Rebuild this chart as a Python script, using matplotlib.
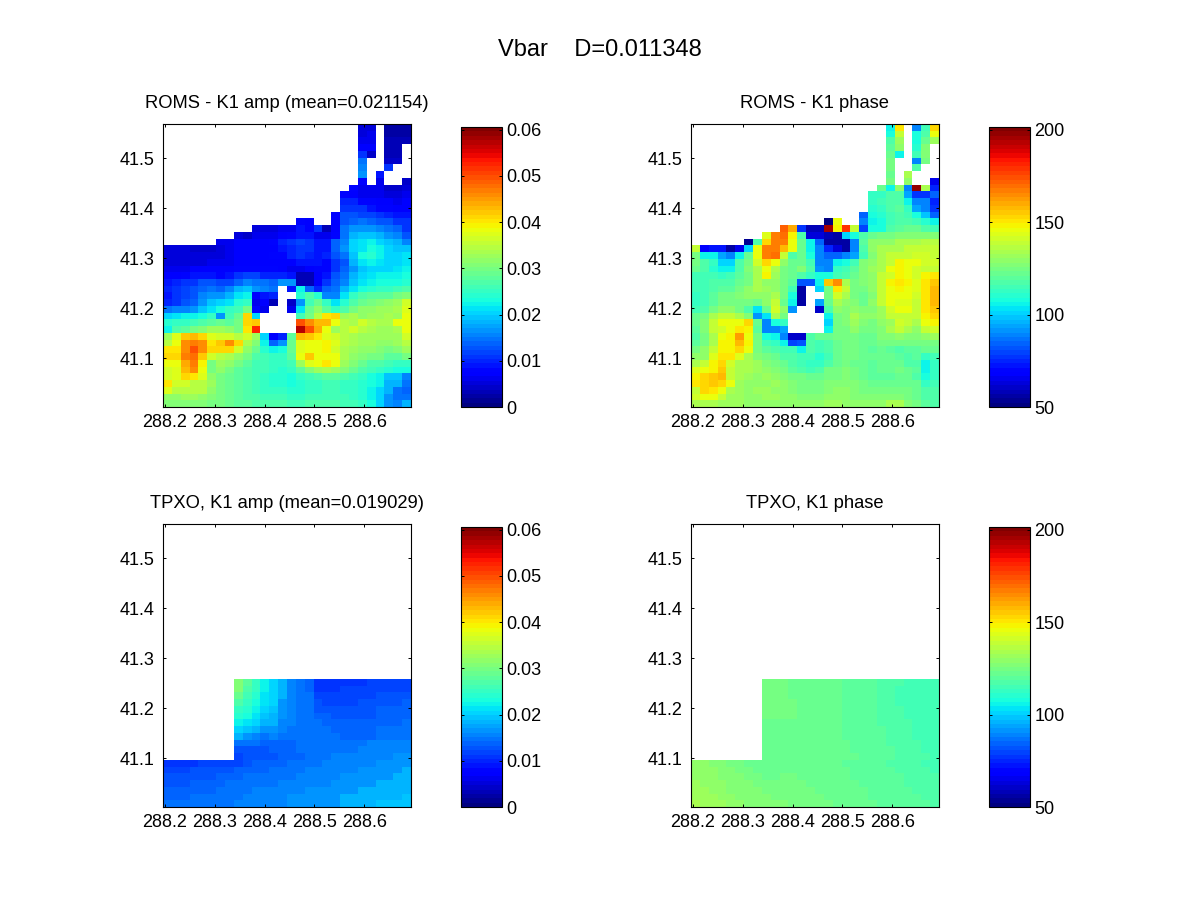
#!/usr/bin/env python
import numpy as np
import matplotlib
matplotlib.use('Agg')
import matplotlib.pyplot as plt

plt.rcParams['font.family'] = ['Liberation Sans', 'DejaVu Sans']

n = float('nan')

# grid is 28 x 42 cells, rows are listed north to south
LON_LIM = (288.196, 288.694)
LAT_LIM = (41.002, 41.569)
LON_TICKS = [288.2, 288.3, 288.4, 288.5, 288.6]
LAT_TICKS = [41.1, 41.2, 41.3, 41.4, 41.5]

AMP_LIM = (0, 0.0606)
AMP_TICKS = [0, 0.01, 0.02, 0.03, 0.04, 0.05, 0.06]
AMP_LABELS = ['0', '0.01', '0.02', '0.03', '0.04', '0.05', '0.06']
PHASE_LIM = (50, 201.6)
PHASE_TICKS = [50, 100, 150, 200]
PHASE_LABELS = ['50', '100', '150', '200']

# amplitudes, in 1e-3
ROMS_AMP = [
    [n]*22 + [5, 5, n, 2, 2, 2],
    [n]*22 + [5, 6, n, 2, 2, 2],
    [n]*22 + [6, 6, n, 3, 3, 3],
    [n]*22 + [7, 7, n, 3, 3, n],
    [n]*22 + [11, 4, n, 3, 3, n],
    [n]*22 + [15, n, n, 4, 4, n],
    [n]*22 + [16, n, n, 11, n, n],
    [n]*22 + [17, n, 9, n, n, n],
    [n]*22 + [7, n, 6, n, n, 4],
    [n]*21 + [8, 6, 6, 6, 4, 4, 5],
    [n]*20 + [8, 7, 6, 6, 6, 5, 5, 6],
    [n]*20 + [10, 10, 8, 8, 7, 7, 6, 7],
    [n]*20 + [11, 11, 11, 9, 8, 8, 7, 7],
    [n]*19 + [7, 13, 13, 12, 12, 11, 10, 9, 9],
    [n]*15 + [8, 7, n, n, 7, 13, 14, 15, 14, 13, 13, 11, 11],
    [n]*10 + [5, 5, 5, 6, 6, 9, 7, 11, 3, 7, 15, 17, 17, 17, 16, 15, 14, 11],
    [n]*8 + [5, 4, 6, 6, 6, 7, 8, 9, 9, 6, 6, 8, 15, 18, 19, 19, 18, 17, 16, 13],
    [n]*6 + [6, 6, 7, 7, 7, 7, 8, 10, 11, 12, 11, 9, 9, 14, 16, 20, 21, 22, 20, 19, 18, 16],
    [5, 5, 5, 4, 4, 4, 5, 6, 7, 7, 7, 7, 7, 9, 10, 11, 11, 9, 9, 14, 17, 20, 21, 23, 22, 20, 19, 19],
    [5, 5, 5, 5, 5, 5, 5, 6, 7, 7, 7, 7, 8, 8, 10, 11, 10, 9, 10, 13, 15, 19, 23, 24, 22, 20, 20, 21],
    [5, 5, 5, 5, 5, 6, 6, 6, 7, 7, 7, 7, 7, 7, 7, 9, 9, 9, 8, 11, 13, 18, 21, 22, 21, 20, 20, 21],
    [6, 6, 6, 7, 7, 7, 7, 7, 8, 8, 8, 8, 8, 7, 6, 6, 7, 8, 8, 11, 14, 17, 19, 20, 20, 20, 21, 22],
    [7, 7, 8, 9, 9, 9, 8, 9, 11, 12, 12, 10, 10, 10, 9, 3, 3, 7, 9, 13, 15, 18, 20, 21, 22, 22, 22, 23],
    [9, 10, 11, 11, 13, 13, 12, 12, 14, 16, 15, 15, 14, 17, 17, 3, 3, 7, 11, 14, 16, 19, 21, 22, 23, 23, 23, 24],
    [10, 11, 12, 13, 14, 15, 14, 16, 18, 19, 17, 16, 15, n, 9, 22, 14, 10, 14, 15, 18, 21, 23, 24, 25, 25, 26, 27],
    [9, 11, 12, 13, 16, 17, 17, 18, 21, 22, 7, 9, 10, n, n, 24, 27, 24, 16, 16, 21, 25, 27, 28, 28, 28, 30, 31],
    [10, 11, 13, 14, 17, 19, 20, 21, 24, 25, 6, 7, 3, n, 4, 17, 26, 29, 25, 21, 24, 27, 29, 30, 31, 32, 33, 36],
    [15, 16, 16, 17, 19, 21, 23, 25, 26, 30, 8, 6, n, n, 6, 21, 29, 32, 28, 25, 27, 30, 32, 32, 33, 33, 34, 37],
    [20, 21, 22, 22, 23, 25, 17, 26, 29, 41, 20, n, n, n, n, 26, 30, 35, 40, 41, 33, 34, 32, 33, 33, 34, 33, 38],
    [24, 25, 25, 26, 27, 28, 29, 28, 30, 41, 42, n, n, n, n, 50, 46, 43, 43, 38, 35, 34, 36, 35, 34, 34, 38, 38],
    [22, 27, 28, 30, 31, 33, 33, 32, 30, 40, 53, n, n, n, n, 57, 50, 44, 38, 33, 35, 36, 35, 34, 33, 33, 34, 38],
    [33, 37, 42, 43, 41, 37, 36, 36, 35, 36, 33, 20, 7, 10, 28, 43, 42, 40, 37, 36, 35, 34, 33, 33, 33, 33, 33, 36],
    [35, 38, 46, 47, 46, 40, 42, 46, 41, 34, 31, 22, 14, 17, 29, 37, 38, 38, 39, 37, 35, 34, 33, 33, 32, 32, 33, 35],
    [40, 40, 46, 50, 46, 41, 41, 41, 36, 32, 29, 24, 22, 23, 29, 37, 38, 38, 39, 36, 34, 33, 32, 32, 31, 30, 31, 33],
    [41, 41, 47, 48, 42, 36, 35, 34, 32, 30, 27, 26, 25, 25, 28, 38, 42, 38, 38, 38, 34, 32, 31, 30, 30, 28, 28, 30],
    [38, 38, 44, 47, 39, 30, 33, 32, 30, 28, 26, 26, 25, 25, 26, 33, 37, 38, 40, 38, 33, 31, 29, 27, 27, 26, 25, 25],
    [36, 37, 43, 46, 38, 30, 32, 30, 28, 27, 26, 26, 25, 24, 25, 28, 31, 33, 34, 33, 31, 29, 27, 26, 25, 24, 23, 23],
    [36, 37, 41, 40, 37, 32, 30, 29, 28, 27, 26, 25, 24, 24, 23, 25, 26, 27, 28, 28, 27, 26, 25, 23, 22, 19, 19, 16],
    [40, 36, 36, 35, 35, 33, 30, 29, 28, 27, 26, 25, 24, 24, 23, 24, 25, 25, 26, 26, 25, 25, 24, 23, 22, 18, 18, 15],
    [37, 35, 35, 35, 35, 32, 30, 29, 28, 27, 26, 25, 25, 25, 24, 24, 25, 25, 26, 26, 25, 25, 24, 22, 20, 18, 15, 14],
    [32, 32, 33, 33, 32, 31, 30, 29, 28, 27, 27, 26, 26, 26, 25, 25, 26, 26, 26, 26, 26, 25, 24, 22, 20, 17, 15, 15],
    [31, 31, 31, 31, 31, 30, 30, 29, 28, 28, 27, 27, 27, 27, 26, 26, 27, 27, 27, 27, 26, 26, 25, 23, 20, 17, 16, 18],
]

# phases, in degrees
ROMS_PHASE = [
    [n]*22 + [105, 150, n, 88, 115, 152],
    [n]*22 + [107, 138, n, 107, 118, 145],
    [n]*22 + [118, 132, n, 107, 122, 132],
    [n]*22 + [120, 130, n, 110, 128, n],
    [n]*22 + [122, 105, n, 115, 128, n],
    [n]*22 + [125, n, n, 90, 125, n],
    [n]*22 + [125, n, n, 118, n, n],
    [n]*22 + [122, n, 135, n, n, n],
    [n]*22 + [125, n, 130, n, n, 65],
    [n]*21 + [122, 105, 130, 88, 197, 135, 75],
    [n]*20 + [112, 113, 118, 118, 95, 78, 78, 85],
    [n]*20 + [112, 115, 118, 118, 105, 88, 90, 75],
    [n]*20 + [110, 112, 118, 120, 112, 95, 90, 78],
    [n]*19 + [85, 108, 110, 115, 118, 116, 108, 98, 85],
    [n]*15 + [52, 145, n, n, 90, 105, 108, 115, 118, 118, 115, 110, 105],
    [n]*10 + [172, 160, 78, 58, 58, 195, 148, 180, 138, 80, 107, 108, 118, 120, 122, 122, 118, 116],
    [n]*8 + [143, 168, 170, 148, 118, 62, 62, 58, 56, 100, 108, 118, 122, 125, 125, 127, 128, 128, 128, 128],
    [n]*6 + [54, 118, 152, 168, 168, 145, 122, 105, 85, 55, 55, 55, 90, 120, 130, 130, 130, 133, 133, 135, 137, 137],
    [138, 68, 72, 72, 55, 66, 100, 145, 168, 168, 158, 145, 122, 105, 88, 75, 62, 55, 88, 118, 130, 133, 135, 135, 138, 140, 140, 140],
    [125, 105, 105, 95, 88, 105, 122, 146, 168, 170, 140, 118, 122, 107, 88, 85, 85, 88, 95, 115, 128, 133, 138, 140, 140, 142, 142, 140],
    [125, 118, 112, 100, 100, 118, 125, 142, 152, 145, 130, 122, 122, 115, 90, 90, 105, 108, 115, 128, 130, 135, 140, 148, 145, 145, 142, 142],
    [122, 118, 110, 105, 105, 118, 128, 135, 145, 135, 125, 122, 128, 118, 92, 90, 112, 115, 120, 128, 132, 135, 145, 148, 145, 142, 140, 140],
    [115, 115, 115, 113, 115, 120, 125, 133, 148, 132, 125, 122, 118, 112, 108, 108, 115, 118, 122, 128, 130, 138, 142, 148, 145, 142, 148, 150],
    [115, 115, 118, 118, 118, 122, 125, 135, 130, 130, 125, 120, 82, 82, 105, 155, 165, 135, 125, 128, 130, 140, 148, 150, 148, 143, 150, 155],
    [115, 115, 118, 120, 120, 125, 130, 135, 132, 130, 125, 115, 55, n, 100, 125, 150, 138, 125, 125, 130, 140, 145, 148, 145, 143, 150, 158],
    [112, 115, 120, 125, 125, 128, 130, 130, 130, 135, 125, 108, 55, n, n, 125, 142, 135, 125, 122, 128, 140, 145, 145, 145, 142, 150, 158],
    [112, 115, 120, 125, 125, 125, 125, 122, 130, 140, 122, 105, 55, n, 95, 122, 135, 130, 128, 122, 130, 140, 145, 143, 143, 140, 150, 158],
    [115, 118, 125, 130, 130, 125, 118, 103, 122, 142, 130, 92, n, n, 60, 118, 130, 128, 130, 128, 128, 132, 142, 145, 145, 140, 150, 155],
    [122, 125, 135, 140, 140, 135, 128, 92, 103, 135, 125, n, n, n, n, 105, 125, 128, 135, 130, 130, 132, 140, 140, 140, 138, 148, 152],
    [122, 128, 140, 145, 145, 145, 152, 122, 90, 107, 112, n, n, n, n, 100, 125, 128, 132, 128, 125, 130, 132, 142, 138, 135, 145, 148],
    [120, 128, 138, 142, 145, 150, 148, 120, 88, 88, 95, n, n, n, n, 105, 125, 125, 130, 125, 125, 128, 135, 138, 135, 130, 140, 142],
    [118, 125, 135, 145, 148, 162, 145, 125, 107, 106, 88, 60, 60, 118, 122, 122, 125, 125, 125, 122, 122, 128, 128, 130, 128, 128, 130, 132],
    [120, 125, 135, 148, 148, 158, 148, 125, 115, 112, 105, 80, 82, 118, 115, 118, 122, 125, 125, 122, 122, 125, 125, 125, 125, 125, 125, 125],
    [125, 130, 138, 148, 148, 152, 145, 125, 120, 118, 115, 115, 105, 118, 115, 118, 122, 125, 125, 122, 120, 122, 120, 118, 120, 120, 122, 122],
    [130, 130, 143, 150, 150, 143, 135, 128, 125, 122, 118, 118, 115, 115, 110, 115, 122, 125, 125, 122, 122, 122, 122, 120, 118, 120, 112, 115],
    [135, 138, 148, 152, 142, 135, 135, 132, 128, 125, 122, 118, 115, 112, 112, 118, 122, 125, 122, 122, 120, 122, 122, 122, 118, 118, 105, 112],
    [143, 145, 148, 155, 140, 135, 133, 132, 130, 128, 125, 120, 118, 116, 118, 125, 125, 128, 125, 122, 120, 122, 122, 125, 122, 120, 105, 112],
    [148, 152, 155, 158, 140, 135, 132, 130, 132, 130, 128, 125, 125, 122, 122, 125, 125, 128, 125, 122, 120, 120, 120, 122, 122, 118, 108, 113],
    [150, 152, 155, 152, 145, 132, 130, 130, 130, 132, 130, 128, 125, 125, 125, 128, 128, 128, 128, 125, 122, 122, 122, 122, 122, 122, 112, 115],
    [140, 152, 150, 145, 135, 132, 130, 132, 132, 130, 130, 128, 125, 125, 125, 128, 130, 130, 128, 125, 125, 125, 125, 125, 125, 122, 118, 118],
    [142, 146, 146, 140, 132, 132, 130, 130, 132, 132, 130, 130, 128, 128, 128, 130, 130, 130, 128, 128, 128, 128, 128, 128, 125, 122, 118, 118],
    [135, 135, 135, 132, 132, 132, 130, 130, 130, 130, 130, 130, 130, 130, 130, 132, 132, 130, 130, 130, 130, 130, 135, 135, 128, 125, 120, 118],
]

TPXO_AMP = [[n]*28]*23 + [
    [n]*8 + [31, 28, 25, 22, 20, 18, 16, 15, 14, 11, 11, 11, 11, 11, 11, 12, 12, 12, 12, 12],
    [n]*8 + [31, 27, 25, 22, 20, 18, 16, 15, 14, 11, 11, 11, 12, 12, 12, 12, 12, 12, 12, 12],
    [n]*8 + [29, 26, 24, 21, 20, 18, 16, 15, 15, 12, 12, 12, 12, 12, 12, 12, 13, 13, 13, 13],
    [n]*8 + [27, 25, 23, 21, 20, 17, 16, 15, 15, 13, 12, 12, 12, 12, 13, 13, 13, 13, 13, 14],
    [n]*8 + [25, 24, 22, 20, 19, 17, 16, 15, 15, 13, 13, 13, 13, 13, 13, 13, 14, 14, 14, 14],
    [n]*8 + [24, 23, 21, 19, 18, 17, 16, 15, 15, 14, 14, 13, 13, 13, 13, 13, 14, 14, 14, 14],
    [n]*8 + [22, 21, 20, 18, 18, 16, 16, 15, 15, 15, 14, 14, 14, 14, 14, 14, 14, 14, 14, 15],
    [n]*8 + [20, 19, 18, 17, 17, 16, 15, 15, 15, 15, 15, 14, 14, 14, 14, 14, 15, 15, 15, 15],
    [n]*8 + [18, 17, 16, 15, 16, 15, 15, 15, 15, 15, 15, 15, 14, 14, 14, 14, 15, 15, 15, 15],
    [n]*8 + [15, 15, 15, 14, 14, 14, 14, 15, 15, 15, 15, 15, 15, 15, 15, 16, 16, 16, 16, 16],
    [n]*8 + [13, 13, 13, 13, 14, 14, 14, 15, 15, 15, 15, 15, 15, 15, 16, 16, 16, 16, 16, 16],
    [n]*8 + [12, 13, 13, 13, 13, 14, 14, 14, 15, 15, 15, 16, 16, 16, 16, 16, 16, 16, 17, 17],
    [11, 11, 11, 11, 12, 12, 12, 12, 12, 13, 14, 14, 14, 14, 15, 15, 15, 15, 16, 16, 16, 16, 16, 16, 17, 17, 17, 17],
    [12, 12, 12, 13, 13, 13, 13, 13, 14, 14, 14, 14, 15, 15, 15, 15, 16, 16, 16, 16, 16, 16, 17, 17, 17, 17, 17, 18],
    [13, 13, 13, 13, 13, 13, 14, 14, 14, 15, 15, 15, 15, 15, 15, 16, 16, 16, 16, 16, 17, 17, 17, 17, 17, 17, 18, 18],
    [13, 13, 13, 14, 14, 14, 14, 15, 15, 15, 15, 15, 15, 16, 16, 16, 16, 16, 16, 17, 17, 17, 17, 17, 18, 18, 18, 18],
    [14, 14, 14, 14, 14, 14, 15, 15, 15, 15, 16, 16, 16, 16, 16, 16, 17, 17, 17, 17, 17, 17, 18, 18, 18, 18, 18, 18],
    [14, 14, 14, 15, 15, 15, 15, 15, 15, 16, 16, 16, 16, 16, 17, 17, 17, 17, 17, 17, 18, 18, 18, 18, 18, 18, 18, 19],
    [15, 15, 15, 15, 15, 15, 15, 15, 16, 16, 16, 16, 16, 16, 17, 17, 17, 17, 17, 17, 18, 18, 18, 18, 19, 19, 19, 19],
]

TPXO_PHASE = [[n]*28]*23 + [
    [n]*8 + [125, 125, 125, 123, 123, 123, 123, 123, 123, 121, 120, 120, 120, 118, 118, 117, 115, 114, 114, 114],
    [n]*8 + [125, 125, 125, 123, 123, 123, 123, 123, 122, 121, 120, 120, 119, 118, 118, 116, 115, 114, 114, 114],
    [n]*8 + [125, 125, 125, 123, 123, 123, 123, 122, 122, 121, 120, 120, 119, 118, 117, 116, 115, 114, 114, 114],
    [n]*8 + [125, 125, 125, 124, 123, 123, 123, 122, 122, 121, 120, 120, 119, 118, 117, 116, 116, 115, 114, 114],
    [n]*8 + [125, 125, 124, 124, 123, 123, 123, 122, 122, 121, 120, 120, 119, 118, 118, 117, 116, 115, 115, 114],
    [n]*8 + [124, 124, 124, 124, 123, 123, 123, 122, 122, 121, 120, 120, 119, 118, 118, 117, 116, 116, 115, 114],
    [n]*8 + [123, 123, 123, 123, 123, 123, 123, 122, 122, 121, 121, 120, 119, 118, 118, 117, 117, 116, 115, 115],
    [n]*8 + [123, 123, 123, 123, 123, 123, 123, 122, 122, 121, 121, 120, 119, 119, 118, 117, 117, 116, 116, 115],
    [n]*8 + [123, 123, 123, 123, 123, 123, 123, 122, 122, 121, 121, 120, 120, 119, 118, 118, 117, 116, 116, 116],
    [n]*8 + [123, 123, 123, 123, 123, 123, 123, 123, 122, 122, 121, 120, 120, 119, 118, 118, 117, 117, 116, 116],
    [n]*8 + [123, 123, 123, 123, 123, 123, 123, 123, 122, 122, 121, 121, 120, 119, 119, 118, 118, 117, 116, 116],
    [n]*8 + [122, 123, 123, 123, 123, 123, 123, 123, 123, 122, 122, 121, 120, 120, 119, 118, 118, 117, 117, 116],
    [129, 129, 128, 127, 125, 124, 123, 122, 122, 123, 123, 123, 123, 123, 123, 122, 122, 121, 120, 120, 119, 119, 118, 118, 117, 117, 116, 116],
    [129, 129, 129, 128, 127, 125, 124, 123, 123, 123, 123, 123, 123, 123, 123, 123, 122, 122, 121, 120, 120, 119, 119, 118, 118, 117, 117, 116],
    [130, 130, 129, 128, 127, 126, 125, 124, 123, 123, 124, 124, 123, 123, 123, 123, 123, 122, 121, 121, 120, 120, 119, 119, 118, 118, 117, 117],
    [131, 130, 130, 129, 128, 127, 126, 125, 124, 124, 124, 124, 124, 123, 123, 123, 123, 122, 122, 121, 121, 120, 119, 119, 118, 118, 118, 117],
    [131, 131, 130, 129, 128, 128, 127, 126, 125, 125, 124, 124, 124, 124, 123, 123, 123, 123, 122, 122, 121, 120, 120, 119, 119, 118, 118, 118],
    [132, 131, 131, 130, 129, 128, 128, 127, 126, 125, 125, 125, 124, 124, 124, 123, 123, 123, 123, 122, 121, 121, 120, 120, 119, 119, 118, 118],
    [133, 132, 131, 131, 130, 129, 128, 128, 127, 126, 126, 125, 125, 124, 124, 124, 123, 123, 123, 122, 122, 121, 121, 120, 120, 119, 119, 118],
]

PANELS = [
    (ROMS_AMP, 1e-3, 'ROMS - K1 amp (mean=0.021154)', AMP_LIM, AMP_TICKS, AMP_LABELS, 163, 124),
    (ROMS_PHASE, 1, 'ROMS - K1 phase', PHASE_LIM, PHASE_TICKS, PHASE_LABELS, 691, 124),
    (TPXO_AMP, 1e-3, 'TPXO, K1 amp (mean=0.019029)', AMP_LIM, AMP_TICKS, AMP_LABELS, 163, 524),
    (TPXO_PHASE, 1, 'TPXO, K1 phase', PHASE_LIM, PHASE_TICKS, PHASE_LABELS, 691, 524),
]

W, H = 1200.0, 900.0
fig = plt.figure(figsize=(12, 9), dpi=100, facecolor='white')
fig.text(600/W, 1 - 50/H, 'Vbar    D=0.011348', fontsize=17, ha='center', va='center')

cmap = plt.get_cmap('jet', 64).copy()
cmap.set_bad('white')

lon = np.linspace(LON_LIM[0], LON_LIM[1], 29)
lat = np.linspace(LAT_LIM[0], LAT_LIM[1], 43)

for (values, scale, title, lim, cticks, clabels, left, top) in PANELS:
    ax = fig.add_axes([left/W, 1 - (top + 283)/H, 248/W, 283/H])
    z = np.flipud(np.array(values, dtype=float) * scale)
    mesh = ax.pcolormesh(lon, lat, np.ma.masked_invalid(z), cmap=cmap,
                         vmin=lim[0], vmax=lim[1], antialiased=False, linewidth=0)
    ax.set_xlim(LON_LIM)
    ax.set_ylim(LAT_LIM)
    ax.set_xticks(LON_TICKS)
    ax.set_xticklabels(['%.1f' % t for t in LON_TICKS])
    ax.set_yticks(LAT_TICKS)
    ax.set_yticklabels(['%.1f' % t for t in LAT_TICKS])
    ax.tick_params(direction='in', top=True, right=True, length=2.5, width=0.7, labelsize=13)
    ax.tick_params(axis='x', pad=5)
    ax.tick_params(axis='y', pad=6)
    for s in ax.spines.values():
        s.set_linewidth(0.8)
    ax.text(0.5, 1 + 20/283.0, title, transform=ax.transAxes, fontsize=13.2,
            ha='center', va='center')

    cax = fig.add_axes([(left + 298)/W, 1 - (top + 283)/H, 41/W, 280/H])
    cb = fig.colorbar(mesh, cax=cax, ticks=cticks)
    cb.ax.set_yticklabels(clabels)
    cb.ax.minorticks_off()
    cb.ax.tick_params(direction='in', left=True, right=True, length=2.5, width=0.7,
                      labelsize=13, pad=3)
    cb.outline.set_linewidth(0.8)

fig.savefig('out.png', dpi=100)
